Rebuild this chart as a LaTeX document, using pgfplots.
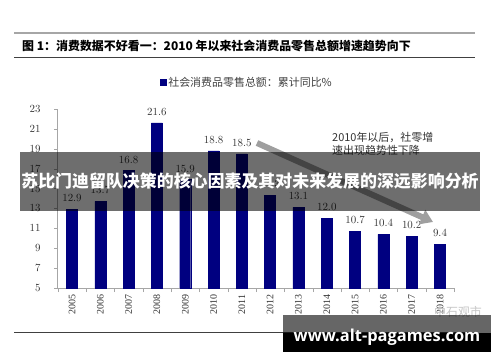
\documentclass[border=0pt]{standalone}
\usepackage{pgfplots}
\pgfplotsset{compat=1.18}
\usepackage{fontspec}
\usetikzlibrary{arrows.meta}
\setmainfont{Liberation Serif}
\newfontfamily\cjk{Noto Sans CJK SC}
\newfontfamily\wm{Open Sans}
\definecolor{navy}{RGB}{0,0,128}
\begin{document}
\begin{tikzpicture}[x=1bp,y=1bp]
\fill[white] (0,0) rectangle (500,362);
\useasboundingbox (0,0) rectangle (500,362);
\draw[gray!70, line width=1.5bp] (14,329) -- (475,329);
\draw[black!75, line width=0.8bp] (14,305) -- (475,305);
\node[anchor=west, inner sep=0pt, font=\cjk\bfseries\fontsize{12}{14}\selectfont] at (22,316) {图 1：消费数据不好看一：2010 年以来社会消费品零售总额增速趋势向下};
\begin{axis}[at={(57bp,74bp)}, anchor=south west, scale only axis,
  width=398bp, height=179bp,
  xmin=-0.53, xmax=13.53, ymin=5, ymax=23, ytick={5,7,...,23},
  xtick={0,...,13},
  xticklabels={2005,2006,2007,2008,2009,2010,2011,2012,2013,2014,2015,2016,2017,2018},
  minor xtick={-0.5,0.5,...,13.5},
  axis x line*=bottom, axis y line*=left,
  axis line style={gray!70},
  tick align=outside, major tick length=3bp, minor tick length=4bp,
  major x tick style={draw=none}, minor x tick style={gray!70}, y tick style={gray!70},
  xticklabel style={rotate=90, anchor=east, font=\fontsize{10}{10}\selectfont, text=black!80},
  yticklabel style={font=\fontsize{10.5}{10}\selectfont, text=black!80, xshift=-10bp},
  ybar, bar width=11bp, clip=false,
  nodes near coords={\pgfmathprintnumber[fixed,fixed zerofill,precision=1]{\pgfplotspointmeta}},
  every node near coord/.append style={font=\addfontfeature{LetterSpace=10}\fontsize{11}{11}\selectfont, text=black!80, yshift=4bp},
  legend style={at={(0.477,1)}, anchor=south, yshift=17bp, draw=none, fill=none,
    font=\cjk\fontsize{11}{13}\selectfont, text=black!75},
  legend image code/.code={\fill[navy] (0bp,-3bp) rectangle (6bp,3bp);},
]
\addplot[fill=navy, draw=navy] coordinates {
(0,12.9) (1,13.7) (2,16.8) (3,21.6) (4,15.9) (5,18.8) (6,18.5)
(7,14.3) (8,13.1) (9,12.0) (10,10.7) (11,10.4) (12,10.2) (13,9.4)};
\addlegendentry{社会消费品零售总额：累计同比\%}
\end{axis}
\draw[gray!75, line width=6bp, -{Triangle[length=12bp,width=15bp]}] (257,219) -- (433,140);
\node[anchor=west, inner sep=0pt, font=\cjk\fontsize{11}{11}\selectfont, text=black!80] at (332,225) {2010年以后，社零增};
\node[anchor=west, inner sep=0pt, font=\cjk\fontsize{11}{11}\selectfont, text=black!80] at (332,212) {速出现趋势性下降};
\fill[black, opacity=0.57] (20,151) rectangle (480,210);
\node[text=white, font=\cjk\bfseries\fontsize{17}{17}\selectfont] at (250,180.5) {苏比门迪留队决策的核心因素及其对未来发展的深远影响分析};
\draw[black!75, line width=0.8bp] (14,30) -- (475,30);
\node[text=gray!45, font=\cjk\fontsize{12}{12}\selectfont] at (458,50) {中石观市};
\fill[black, opacity=0.6] (283,29) rectangle (491,47);
\fill[black] (283,10) rectangle (491,29);
\node[anchor=base, text=white, inner sep=0pt, font=\wm\bfseries\fontsize{16.5}{16.5}\selectfont] at (387,20.3) {www.alt-pagames.com};
\end{tikzpicture}
\end{document}
